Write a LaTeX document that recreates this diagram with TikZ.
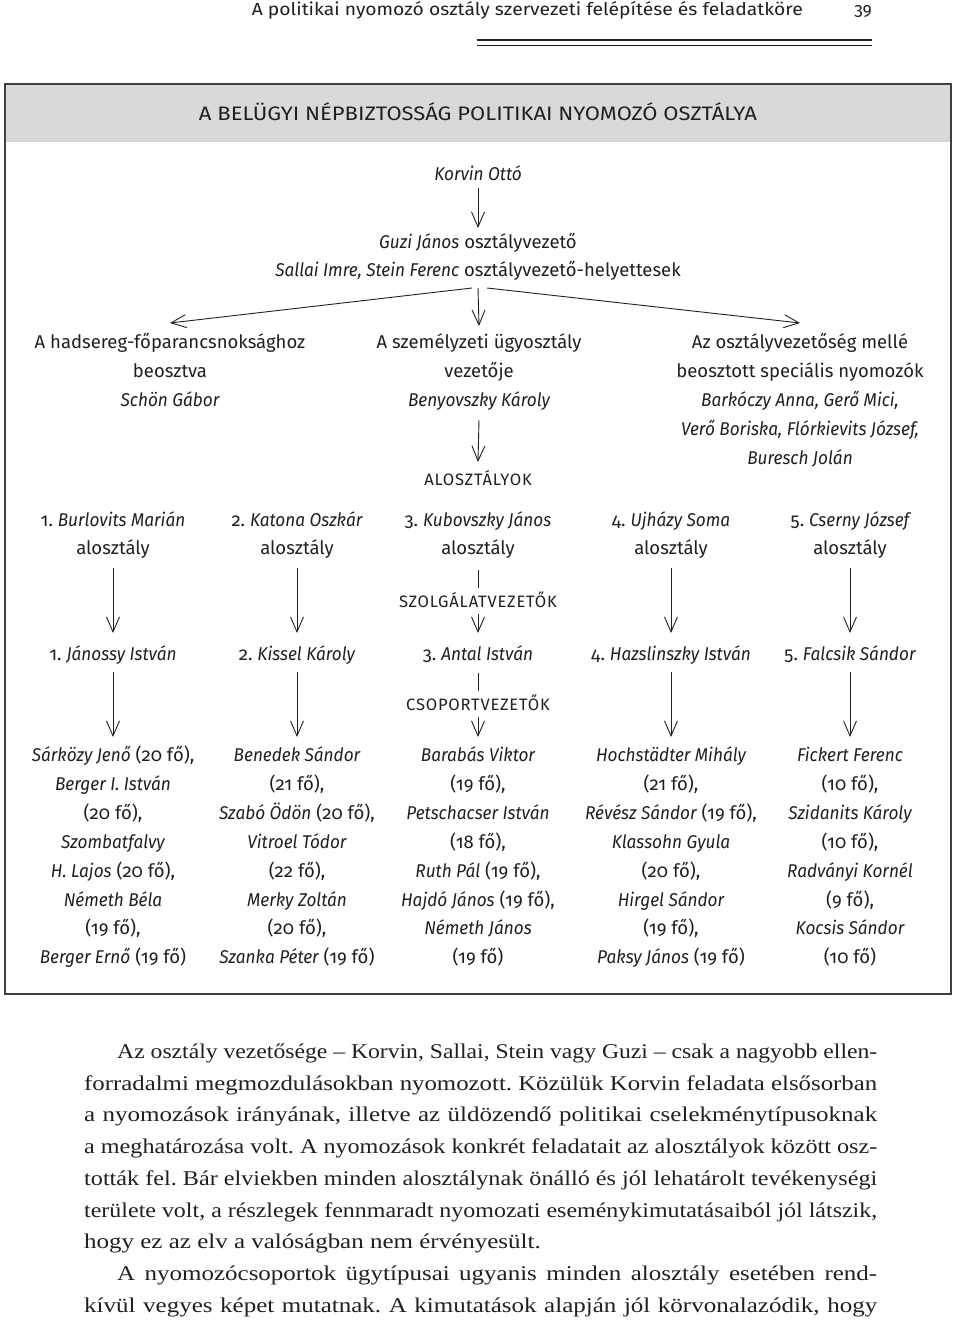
\documentclass[tikz,border=0pt]{standalone}
\usepackage{fontspec}
\usepackage{graphicx}
\usetikzlibrary{arrows.meta}
\newfontfamily\dgr{Fira Sans}[Numbers=OldStyle]
\newfontfamily\dgi{Fira Sans}[Numbers=OldStyle,FakeStretch=0.93]
\newfontfamily\dgcap{Fira Sans}[LetterSpace=5]
\newfontfamily\bodyf{Liberation Serif}[FakeStretch=1.19]
\definecolor{ink}{HTML}{231F20}
\definecolor{band}{HTML}{D9D9D9}
\definecolor{frame}{HTML}{404040}
\newcommand\nm[1]{{\dgi\itshape #1}}
\newcommand\blk[1]{\begin{tabular}[t]{@{}c@{}}#1\end{tabular}}
\newlength\natw
\newcommand\jline[2]{\settowidth\natw{#2}\ifdim\natw>#1\relax\resizebox{#1}{\height}{#2}\else\makebox[#1][s]{#2}\fi}
\frenchspacing
\begin{document}
\begin{tikzpicture}[x=1pt,y=-1pt,
  txt/.style={anchor=base,inner sep=0pt,text=ink,font=\dgr\fontsize{18.5}{29}\selectfont},
  txtb/.style={txt,font=\dgr\fontsize{18.5}{28}\selectfont},
  txtc/.style={txt,font=\dgr\fontsize{18.5}{28.9}\selectfont},
  capl/.style={anchor=base,inner sep=0pt,text=ink,font=\dgcap\fontsize{16.5}{18}\selectfont},
  arr/.style={draw=ink,line width=0.9pt,-{Straight Barb[length=15pt,width=13pt]}},
  link/.style={draw=ink,line width=0.9pt},
  bodyl/.style={anchor=base west,inner sep=0pt,text=ink,font=\bodyf\fontsize{21}{24}\selectfont\frenchspacing}]
\fill[white] (0,0) rectangle (960,1324);
\useasboundingbox (0,0) rectangle (960,1324);
% running head
\node[anchor=base east,inner sep=0pt,text=ink,font=\dgr\fontsize{17.5}{20}\selectfont] (head) at (803,16)
  {\resizebox{551pt}{\height}{A politikai nyomozó osztály szervezeti felépítése és feladatköre}};
\node[anchor=base east,inner sep=0pt,text=ink,font=\dgr\fontsize{17.5}{20}\selectfont] (pageno) at (872,16) {39};
\draw[ink,line width=1.6pt] (477,40) -- (872,40);
\draw[ink,line width=0.8pt] (477,45.5) -- (872,45.5);
% frame
\fill[band] (5,84) rectangle (951,142);
\draw[frame,line width=1.2pt] (5,84) rectangle (951,994);
\node[anchor=base,inner sep=0pt,text=ink,font=\dgr\fontsize{19.5}{22}\selectfont] (title) at (478,121)
  {\resizebox{558pt}{\height}{A BELÜGYI NÉPBIZTOSSÁG POLITIKAI NYOMOZÓ OSZTÁLYA}};
% top
\node[txt] (korvin) at (478,181) {\nm{Korvin Ottó}};
\node[txtb] (guzi) at (478,249) {\blk{\nm{Guzi János} osztályvezető\\ \nm{Sallai Imre, Stein Ferenc} osztályvezető-helyettesek}};
\node[txt] (hads) at (170,348) {\blk{A hadsereg-főparancsnoksághoz\\ beosztva\\ \nm{Schön Gábor}}};
\node[txt] (szem) at (479,348) {\blk{A személyzeti ügyosztály\\ vezetője\\ \nm{Benyovszky Károly}}};
\node[txt] (spec) at (800,348) {\blk{Az osztályvezetőség mellé\\ beosztott speciális nyomozók\\ \nm{Barkóczy Anna, Gerő Mici,}\\ \nm{Verő Boriska, Flórkievits József,}\\ \nm{Buresch Jolán}}};
\node[capl] (alo) at (478,485.5) {ALOSZTÁLYOK};
\draw[arr] ([yshift=-7pt]korvin.base) -- ([yshift=21pt]guzi.base);
\draw[arr] ([xshift=-6pt,yshift=-39pt]guzi.base) -- ([yshift=25pt]hads.base);
\draw[arr] ([yshift=-39pt]guzi.base) -- ([yshift=22pt]szem.base);
\draw[arr] ([xshift=9pt,yshift=-39pt]guzi.base) -- ([yshift=25pt]spec.base);
\draw[arr] ([yshift=-72pt]szem.base) -- ([yshift=23.5pt]alo.base);
% alosztalyok
\node[txtb] (a1) at (113,526) {\blk{1. \nm{Burlovits Marián}\\ alosztály}};
\node[txtb] (a2) at (297,526) {\blk{2. \nm{Katona Oszkár}\\ alosztály}};
\node[txtb] (a3) at (478,526) {\blk{3. \nm{Kubovszky János}\\ alosztály}};
\node[txtb] (a4) at (671,526) {\blk{4. \nm{Ujházy Soma}\\ alosztály}};
\node[txtb] (a5) at (850,526) {\blk{5. \nm{Cserny József}\\ alosztály}};
\node[capl] (szolg) at (478,607.5) {SZOLGÁLATVEZETŐK};
% szolgalatvezetok
\node[txt] (b1) at (113,660) {1. \nm{Jánossy István}};
\node[txt] (b2) at (297,660) {2. \nm{Kissel Károly}};
\node[txt] (b3) at (478,660) {3. \nm{Antal István}};
\node[txt] (b4) at (671,660) {4. \nm{Hazslinszky István}};
\node[txt] (b5) at (850,660) {5. \nm{Falcsik Sándor}};
\node[capl] (csop) at (478,710.5) {CSOPORTVEZETŐK};
\foreach \i in {1,2,4,5} {
  \draw[arr] ([yshift=-42pt]a\i.base) -- ([yshift=27pt]b\i.base);
}
\draw[link] ([yshift=-44pt]a3.base) -- ([yshift=19.5pt]szolg.base);
\draw[arr] ([yshift=-6.5pt]szolg.base) -- ([yshift=27pt]b3.base);
% csoportvezetok
\node[txtc] (c1) at (113,761.5) {\blk{\nm{Sárközy Jenő} (20 fő),\\ \nm{Berger I. István}\\ (20 fő),\\ \nm{Szombatfalvy}\\ \nm{H. Lajos} (20 fő),\\ \nm{Németh Béla}\\ (19 fő),\\ \nm{Berger Ernő} (19 fő)}};
\node[txtc] (c2) at (297,761.5) {\blk{\nm{Benedek Sándor}\\ (21 fő),\\ \nm{Szabó Ödön} (20 fő),\\ \nm{Vitroel Tódor}\\ (22 fő),\\ \nm{Merky Zoltán}\\ (20 fő),\\ \nm{Szanka Péter} (19 fő)}};
\node[txtc] (c3) at (478,761.5) {\blk{\nm{Barabás Viktor}\\ (19 fő),\\ \nm{Petschacser István}\\ (18 fő),\\ \nm{Ruth Pál} (19 fő),\\ \nm{Hajdó János} (19 fő),\\ \nm{Németh János}\\ (19 fő)}};
\node[txtc] (c4) at (671,761.5) {\blk{\nm{Hochstädter Mihály}\\ (21 fő),\\ \nm{Révész Sándor} (19 fő),\\ \nm{Klassohn Gyula}\\ (20 fő),\\ \nm{Hirgel Sándor}\\ (19 fő),\\ \nm{Paksy János} (19 fő)}};
\node[txtc] (c5) at (850,761.5) {\blk{\nm{Fickert Ferenc}\\ (10 fő),\\ \nm{Szidanits Károly}\\ (10 fő),\\ \nm{Radványi Kornél}\\ (9 fő),\\ \nm{Kocsis Sándor}\\ (10 fő)}};
\foreach \i in {1,2,4,5} {
  \draw[arr] ([yshift=-12pt]b\i.base) -- ([yshift=24.5pt]c\i.base);
}
\draw[link] ([yshift=-13pt]b3.base) -- ([yshift=19.5pt]csop.base);
\draw[arr] ([yshift=-6.5pt]csop.base) -- ([yshift=24.5pt]c3.base);
% body text
\node[bodyl] (p1) at (117,1058.3) {\jline{760pt}{Az osztály vezetősége – Korvin, Sallai, Stein vagy Guzi – csak a nagyobb ellen-}};
\node[bodyl] (p2) at (84,1090.0) {\jline{793pt}{forradalmi megmozdulásokban nyomozott. Közülük Korvin feladata elsősorban}};
\node[bodyl] (p3) at (84,1121.8) {\jline{793pt}{a nyomozások irányának, illetve az üldözendő politikai cselekménytípusoknak}};
\node[bodyl] (p4) at (84,1153.5) {\jline{793pt}{a meghatározása volt. A nyomozások konkrét feladatait az alosztályok között osz-}};
\node[bodyl] (p5) at (84,1185.3) {\jline{793pt}{tották fel. Bár elviekben minden alosztálynak önálló és jól lehatárolt tevékenységi}};
\node[bodyl] (p6) at (84,1217.0) {\jline{793pt}{területe volt, a részlegek fennmaradt nyomozati eseménykimutatásaiból jól látszik,}};
\node[bodyl] (p7) at (84,1248.8) {hogy ez az elv a valóságban nem érvényesült.};
\node[bodyl] (p8) at (117,1280.5) {\jline{760pt}{A nyomozócsoportok ügytípusai ugyanis minden alosztály esetében rend-}};
\node[bodyl] (p9) at (84,1312.3) {\jline{793pt}{kívül vegyes képet mutatnak. A kimutatások alapján jól körvonalazódik, hogy}};
\end{tikzpicture}
\end{document}
